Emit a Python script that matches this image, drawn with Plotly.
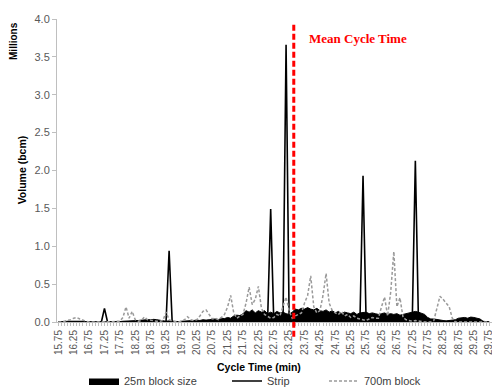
import plotly.graph_objects as go

# Cycle time categories (min), 0.1 min bins from 15.75 to 29.75
cycle_time = [round(15.75 + 0.1 * i, 2) for i in range(141)]

# 25m block size (millions bcm)
block25 = [
    0, 0, 0.005, 0.01, 0.01, 0.015, 0.02, 0.015, 0.01, 0.005,
    0, 0, 0, 0, 0, 0, 0, 0, 0, 0.005,
    0.005, 0.01, 0.01, 0.01, 0.015, 0.02, 0.02, 0.025, 0.03, 0.03,
    0.03, 0.035, 0.03, 0.025, 0.01, 0.01, 0.015, 0.01, 0.005, 0.005,
    0.01, 0.01, 0.015, 0.02, 0.02, 0.025, 0.02, 0.03, 0.025, 0.03,
    0.035, 0.04, 0.03, 0.05, 0.045, 0.06, 0.05, 0.08, 0.09, 0.085,
    0.11, 0.15, 0.13, 0.16, 0.12, 0.15, 0.13, 0.15, 0.11, 0.13,
    0.11, 0.14, 0.12, 0.13, 0.11, 0.1, 0.13, 0.17, 0.16, 0.18,
    0.17, 0.19, 0.17, 0.16, 0.18, 0.15, 0.14, 0.16, 0.13, 0.15,
    0.12, 0.14, 0.11, 0.13, 0.12, 0.11, 0.13, 0.1, 0.12, 0.13,
    0.13, 0.11, 0.12, 0.11, 0.1, 0.11, 0.12, 0.1, 0.11, 0.1,
    0.11, 0.09, 0.1, 0.11, 0.12, 0.13, 0.14, 0.13, 0.12, 0.1,
    0.06, 0.04, 0.04, 0.03, 0.02, 0.02, 0.015, 0.02, 0.02, 0.03,
    0.05, 0.055, 0.06, 0.05, 0.065, 0.06, 0.05, 0.04, 0.01, 0,
    0,
]

# Strip (millions bcm)
strip = [
    0, 0, 0, 0, 0, 0, 0, 0, 0, 0,
    0, 0, 0, 0, 0, 0.18, 0, 0, 0, 0,
    0, 0, 0, 0, 0, 0, 0, 0, 0, 0,
    0, 0, 0, 0, 0, 0, 0.94, 0, 0, 0,
    0, 0, 0, 0, 0, 0, 0, 0, 0, 0,
    0, 0, 0, 0, 0, 0, 0, 0, 0.02, 0.02,
    0.03, 0.02, 0.03, 0.02, 0.03, 0.02, 0.02, 0.03, 0.02, 1.49,
    0.02, 0.03, 0.02, 0.02, 3.66, 0.02, 0.03, 0.02, 0.03, 0.02,
    0.03, 0.02, 0.03, 0.02, 0.02, 0.03, 0.02, 0.03, 0.02, 0.02,
    0.03, 0.02, 0.02, 0.03, 0.02, 0.02, 0.03, 0.02, 0.02, 1.93,
    0.02, 0.03, 0.02, 0.02, 0.03, 0.02, 0.02, 0.03, 0.02, 0.02,
    0.02, 0.03, 0.02, 0.02, 0.02, 0.03, 2.13, 0.02, 0.02, 0.02,
    0.01, 0.01, 0, 0, 0, 0, 0, 0, 0, 0,
    0, 0, 0, 0, 0, 0, 0, 0, 0, 0,
    0,
]

# 700m block (millions bcm)
block700 = [
    0, 0, 0.01, 0.02, 0.03, 0.05, 0.06, 0.04, 0.02, 0.01,
    0, 0, 0, 0, 0, 0, 0, 0, 0.005, 0.01,
    0.01, 0.06, 0.2, 0.05, 0.14, 0.03, 0.01, 0.02, 0.066, 0.03,
    0.02, 0.01, 0.01, 0.01, 0.02, 0.13, 0.03, 0.01, 0, 0,
    0.01, 0.03, 0.07, 0.03, 0.02, 0.03, 0.08, 0.14, 0.16, 0.1,
    0.04, 0.05, 0.03, 0.06, 0.1, 0.2, 0.35, 0.12, 0.05, 0.08,
    0.1, 0.25, 0.46, 0.23, 0.3, 0.47, 0.18, 0.1, 0.08, 0.05,
    0.06, 0.1, 0.08, 0.2, 0.33, 0.15, 0.05, 0.08, 0.1, 0.12,
    0.25, 0.35, 0.61, 0.2, 0.12, 0.15, 0.35, 0.64, 0.25, 0.15,
    0.12, 0.1, 0.14, 0.08, 0.1, 0.06, 0.08, 0.05, 0.04, 0.03,
    0.02, 0.04, 0.06, 0.05, 0.05, 0.2, 0.33, 0.08, 0.4, 0.93,
    0.2, 0.32, 0.06, 0.03, 0.02, 0.01, 0.02, 0.01, 0.01, 0,
    0, 0, 0.02, 0.2, 0.34, 0.3, 0.25, 0.2, 0.05, 0,
    0, 0, 0, 0, 0, 0, 0, 0, 0, 0,
    0,
]

mean_cycle_time = 23.4
legend_labels = ["25m block size", "Strip", "700m block"]

# layout helpers (pixel -> paper)
L, R, T, B = 57, 0, 19, 64.7
W, H = 492, 387
PW, PH = W - L - R, H - T - B


def px(x):
    return (x - L) / PW


def py(y):
    return (H - B - y) / PH


FONT = "Liberation Sans"

fig = go.Figure()
fig.add_trace(go.Scatter(
    x=cycle_time, y=block25, name=legend_labels[0], mode="lines",
    line=dict(color="black", width=1), fill="tozeroy", fillcolor="black",
    legend="legend",
))
fig.add_trace(go.Scatter(
    x=cycle_time, y=strip, name=legend_labels[1], mode="lines",
    line=dict(color="black", width=1.6), legend="legend2",
))
fig.add_trace(go.Scatter(
    x=cycle_time, y=block700, name=legend_labels[2], mode="lines",
    line=dict(color="#9a9a9a", width=1.5, dash="3px,2px"), legend="legend3",
))

fig.add_shape(type="line", xref="x", yref="paper", x0=mean_cycle_time, x1=mean_cycle_time,
              y0=py(337), y1=py(23), line=dict(color="#ff0000", width=3, dash="6px,3px"))

annos = [
    dict(text="<b>Mean Cycle Time</b>", x=px(358), y=py(39),
         font=dict(family="Liberation Serif", size=13, color="#ff0000")),
    dict(text="<b>Millions</b>", x=px(14), y=py(41), textangle=-90,
         font=dict(family=FONT, size=10, color="black")),
    dict(text="<b>Volume (bcm)</b>", x=px(21.5), y=py(170), textangle=-90,
         font=dict(family=FONT, size=10.5, color="black")),
    dict(text="<b>Cycle Time (min)</b>", x=px(259), y=py(367),
         font=dict(family=FONT, size=10.5, color="black")),
]
for a in annos:
    fig.add_annotation(xref="paper", yref="paper", showarrow=False,
                       xanchor="center", yanchor="middle", **a)

leg_common = dict(orientation="h", yanchor="middle", xanchor="left",
                  yref="container", y=(H - 381) / H,
                  bgcolor="rgba(0,0,0,0)", font=dict(family=FONT, size=11, color="#404040"),
                  borderwidth=0, tracegroupgap=0)

fig.update_layout(
    width=W, height=H,
    margin=dict(l=L, r=R, t=T, b=B, autoexpand=False),
    paper_bgcolor="white", plot_bgcolor="white",
    showlegend=True,
    legend=dict(x=px(84), **leg_common),
    legend2=dict(x=px(227), **leg_common),
    legend3=dict(x=px(324), **leg_common),
    xaxis=dict(
        range=[15.708, 29.84], tick0=15.75, dtick=0.5, tickformat=".2f",
        tickangle=-90, ticks="outside", ticklen=3, tickcolor="#bfbfbf",
        showline=True, linecolor="#bfbfbf", linewidth=1, showgrid=False, zeroline=False,
        automargin=False, ticklabeloverflow="allow",
        tickfont=dict(family=FONT, size=10, color="#595959"),
        minor=dict(dtick=0.1, tick0=15.75, ticks="outside", ticklen=3, tickcolor="#bfbfbf", showgrid=False),
    ),
    yaxis=dict(
        range=[0, 4], dtick=0.5, tickformat=".1f", ticks="outside", ticklen=4,
        tickcolor="#bfbfbf", showline=True, linecolor="#bfbfbf", linewidth=1,
        showgrid=False, zeroline=False, automargin=False,
        tickfont=dict(family=FONT, size=11, color="#595959"),
    ),
)

fig.write_html("out.html")
